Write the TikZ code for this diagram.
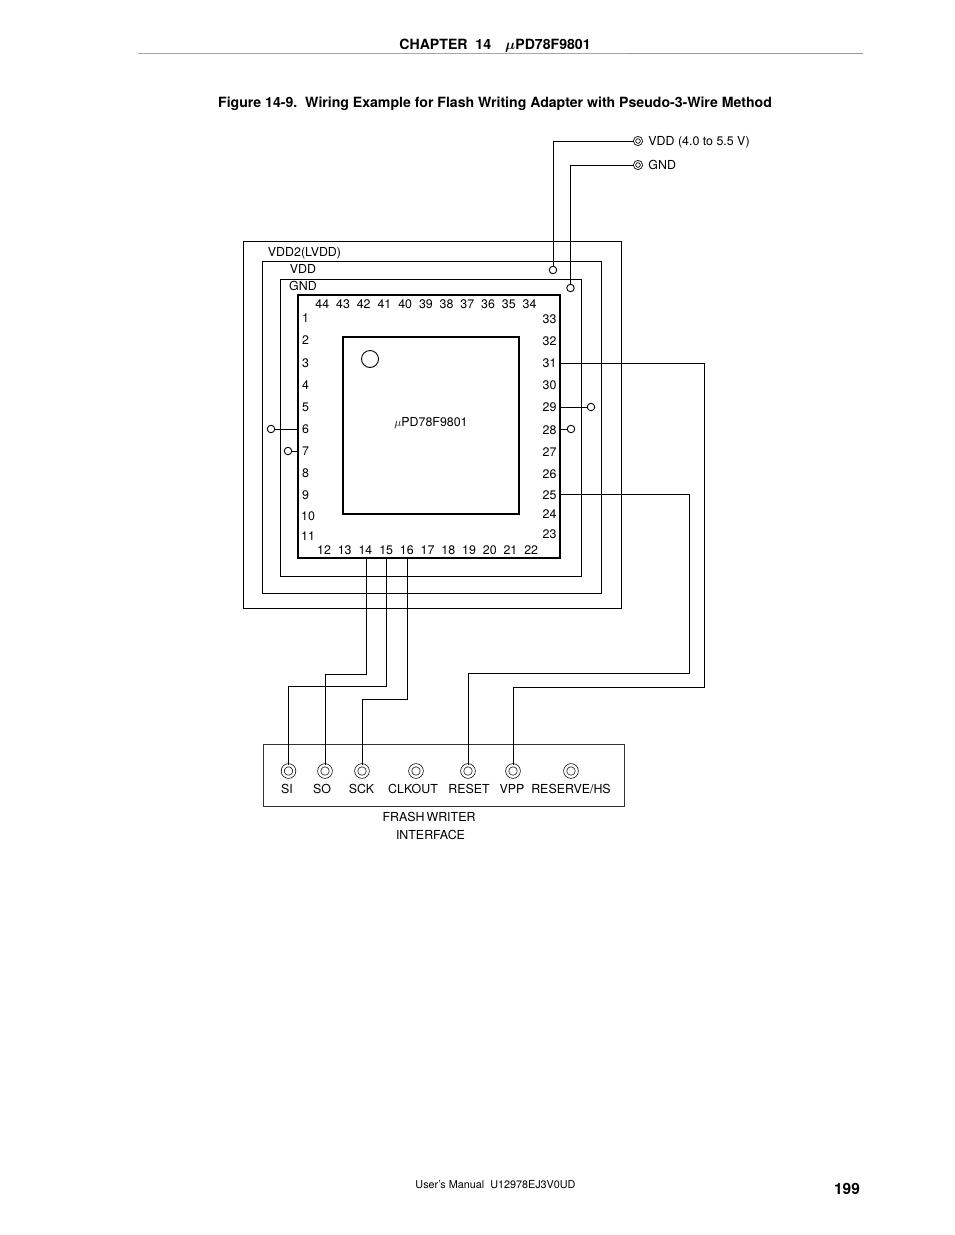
\documentclass[tikz,border=0pt]{standalone}
\usepackage{fontspec}
\usepackage{amsmath}
\usepackage{bm}
\setmainfont{TeX Gyre Heros}
\usetikzlibrary{positioning}

\begin{document}
\begin{tikzpicture}[x=1pt,y=-1pt,on grid,line width=0.9pt]
  \tikzstyle{lbl}=[inner sep=0pt,text height=9pt,text depth=0pt,font=\fontsize{12.4}{14}\selectfont]
  \tikzstyle{head}=[lbl,font=\fontsize{14.1}{16}\selectfont\bfseries]
  \tikzstyle{toprow}=[lbl,node distance=20.72pt]
  \tikzstyle{siderow}=[lbl,node distance=22.1pt]
  \tikzstyle{box}=[draw,inner sep=0pt,minimum width=0pt]
  \tikzstyle{term}=[draw,circle,inner sep=0pt,minimum size=7.5pt]
  \tikzstyle{jack}=[draw,circle,double,double distance=1.2pt,line width=0.8pt,inner sep=0pt,minimum size=7pt]
  \tikzstyle{socket}=[draw,circle,double,double distance=2.4pt,line width=0.7pt,inner sep=0pt,minimum size=11.5pt]

  \useasboundingbox (0,0) rectangle (954,1235);

  % page text
  \node[head] (chapter) at (495,44.6) {CHAPTER\ \ 14\quad $\bm{\mu}$PD78F9801};
  \node[head] (title) at (495,102.6) {Figure 14-9.\ \ Wiring Example for Flash Writing Adapter with Pseudo-3-Wire Method};
  \node[lbl,font=\fontsize{10.8}{13}\selectfont] (manual) at (495.5,1184) {User's Manual\ \ U12978EJ3V0UD};
  \node[head,font=\fontsize{15.5}{17}\selectfont\bfseries] (page) at (847,1189.5) {199};
  \coordinate (rulea) at (138,53.5);
  \coordinate (ruleb) at (627,53.5);
  \coordinate (rulec) at (863,53.5);
  \draw[gray!70,line width=1.4pt] (rulea) -- (ruleb);
  \draw[gray!80,line width=0.7pt] (ruleb) -- (rulec);

  % nested frames
  \node[box,minimum width=378pt,minimum height=367pt] (lvdd) at (432,424.5) {};
  \node[box,minimum width=339pt,minimum height=332pt] (vdd) at (431.5,427) {};
  \node[box,minimum width=301pt,minimum height=297pt] (gnd) at (430.5,427.5) {};
  \node[box,line width=2pt,minimum width=262pt,minimum height=263pt] (pkg) at (429,426.5) {};
  \node[box,line width=2pt,minimum width=176pt,minimum height=177pt] (chip) at (431,425.5) {};
  \node[draw,circle,inner sep=0pt,minimum size=17pt] (mark) at (370,359) {};

  \node[lbl] (lvddlbl) at (304.5,252) {VDD2(LVDD)};
  \node[lbl] (vddlbl) at (303,269) {VDD};
  \node[lbl] (gndlbl) at (303,286) {GND};
  \node[lbl] (chiplbl) at (431,422) {$\mu$PD78F9801};

  % top pins
  \node[toprow] (p44) at (322.3,304) {44};
  \node[toprow] (p43) [right of=p44] {43};
  \node[toprow] (p42) [right of=p43] {42};
  \node[toprow] (p41) [right of=p42] {41};
  \node[toprow] (p40) [right of=p41] {40};
  \node[toprow] (p39) [right of=p40] {39};
  \node[toprow] (p38) [right of=p39] {38};
  \node[toprow] (p37) [right of=p38] {37};
  \node[toprow] (p36) [right of=p37] {36};
  \node[toprow] (p35) [right of=p36] {35};
  \node[toprow] (p34) [right of=p35] {34};

  % bottom pins
  \node[toprow] (p12) at (324,550) {12};
  \node[toprow] (p13) [right of=p12] {13};
  \node[toprow] (p14) [right of=p13] {14};
  \node[toprow] (p15) [right of=p14] {15};
  \node[toprow] (p16) [right of=p15] {16};
  \node[toprow] (p17) [right of=p16] {17};
  \node[toprow] (p18) [right of=p17] {18};
  \node[toprow] (p19) [right of=p18] {19};
  \node[toprow] (p20) [right of=p19] {20};
  \node[toprow] (p21) [right of=p20] {21};
  \node[toprow] (p22) [right of=p21] {22};

  % left pins
  \node[siderow] (p1) at (305.5,318.3) {1};
  \node[siderow] (p2) [below of=p1] {2};
  \node[siderow] (p3) [below of=p2] {3};
  \node[siderow] (p4) [below of=p3] {4};
  \node[siderow] (p5) [below of=p4] {5};
  \node[siderow] (p6) [below of=p5] {6};
  \node[siderow] (p7) [below of=p6] {7};
  \node[siderow] (p8) [below of=p7] {8};
  \node[siderow] (p9) [below of=p8] {9};
  \node[lbl] (p10) at (308,516) {10};
  \node[lbl] (p11) at (308,536) {11};

  % right pins
  \node[siderow] (p33) at (549.5,319) {33};
  \node[siderow] (p32) [below of=p33] {32};
  \node[siderow] (p31) [below of=p32] {31};
  \node[siderow] (p30) [below of=p31] {30};
  \node[siderow] (p29) [below of=p30] {29};
  \node[siderow] (p28) [below of=p29] {28};
  \node[siderow] (p27) [below of=p28] {27};
  \node[siderow] (p26) [below of=p27] {26};
  \node[lbl] (p25) at (549.5,495) {25};
  \node[lbl] (p24) at (549.5,514) {24};
  \node[lbl] (p23) at (549.5,534) {23};

  % supply
  \node[jack] (jvdd) at (638,141) {};
  \node[jack] (jgnd) at (638,165) {};
  \node[lbl,anchor=west] (jvddlbl) at (648,141) {VDD (4.0 to 5.5 V)};
  \node[lbl,anchor=west] (jgndlbl) at (648,165) {GND};
  \node[term] (tvdd) at (553,270) {};
  \node[term] (tgnd) at (570.5,288) {};

  % open terminals
  \node[term] (t6) at (271,429) {};
  \node[term] (t7) at (288,451) {};
  \node[term] (t29) at (591,407) {};
  \node[term] (t28) at (571,429) {};

  % interface
  \node[box,draw=black!80,minimum width=361pt,minimum height=62pt] (iface) at (443.5,775) {};
  \node[socket] (si) at (288.5,771) {};
  \node[socket] (so) at (325,771) {};
  \node[socket] (sck) at (362,771) {};
  \node[socket] (clkout) at (416,771) {};
  \node[socket] (reset) at (468,771) {};
  \node[socket] (vpp) at (513,771) {};
  \node[socket] (reserve) at (571,771) {};
  \node[lbl] (silbl) at (287,788.5) {SI};
  \node[lbl] (solbl) at (322,788.5) {SO};
  \node[lbl] (scklbl) at (361.5,788.5) {SCK};
  \node[lbl] (clkoutlbl) at (413,788.5) {CLKOUT};
  \node[lbl] (resetlbl) at (469,788.5) {RESET};
  \node[lbl] (vpplbl) at (512,788.5) {VPP};
  \node[lbl] (reservelbl) at (571,788.5) {RESERVE/HS};
  \node[lbl] (ifacea) at (429,816.5) {FRASH\,WRITER};
  \node[lbl] (ifaceb) at (430.5,834.5) {INTERFACE};

  % wire ends on the package and bends
  \coordinate (w6) at (pkg.west |- t6);
  \coordinate (w7) at (pkg.west |- t7);
  \coordinate (w28) at (pkg.east |- t28);
  \coordinate (w29) at (pkg.east |- t29);
  \coordinate (w31) at (560,363);
  \coordinate (w25) at (560,494.5);
  \coordinate (w14) at (366,558);
  \coordinate (w15) at (386.5,558);
  \coordinate (w16) at (407,558);
  \coordinate (b14) at (366,674);
  \coordinate (b15) at (386.5,686);
  \coordinate (b16) at (407,699);
  \coordinate (b25) at (689,673);
  \coordinate (b31) at (704,687);

  \draw (jvdd) -| (tvdd);
  \draw (jgnd) -| (tgnd);
  \draw (t6) -- (w6);
  \draw (t7) -- (w7);
  \draw (w28) -- (t28);
  \draw (w29) -- (t29);
  \draw (w31) -| (b31) -| (vpp);
  \draw (w25) -| (b25) -| (reset);
  \draw (w14) -- (b14) -| (so);
  \draw (w15) -- (b15) -| (si);
  \draw (w16) -- (b16) -| (sck);

\end{tikzpicture}
\end{document}
